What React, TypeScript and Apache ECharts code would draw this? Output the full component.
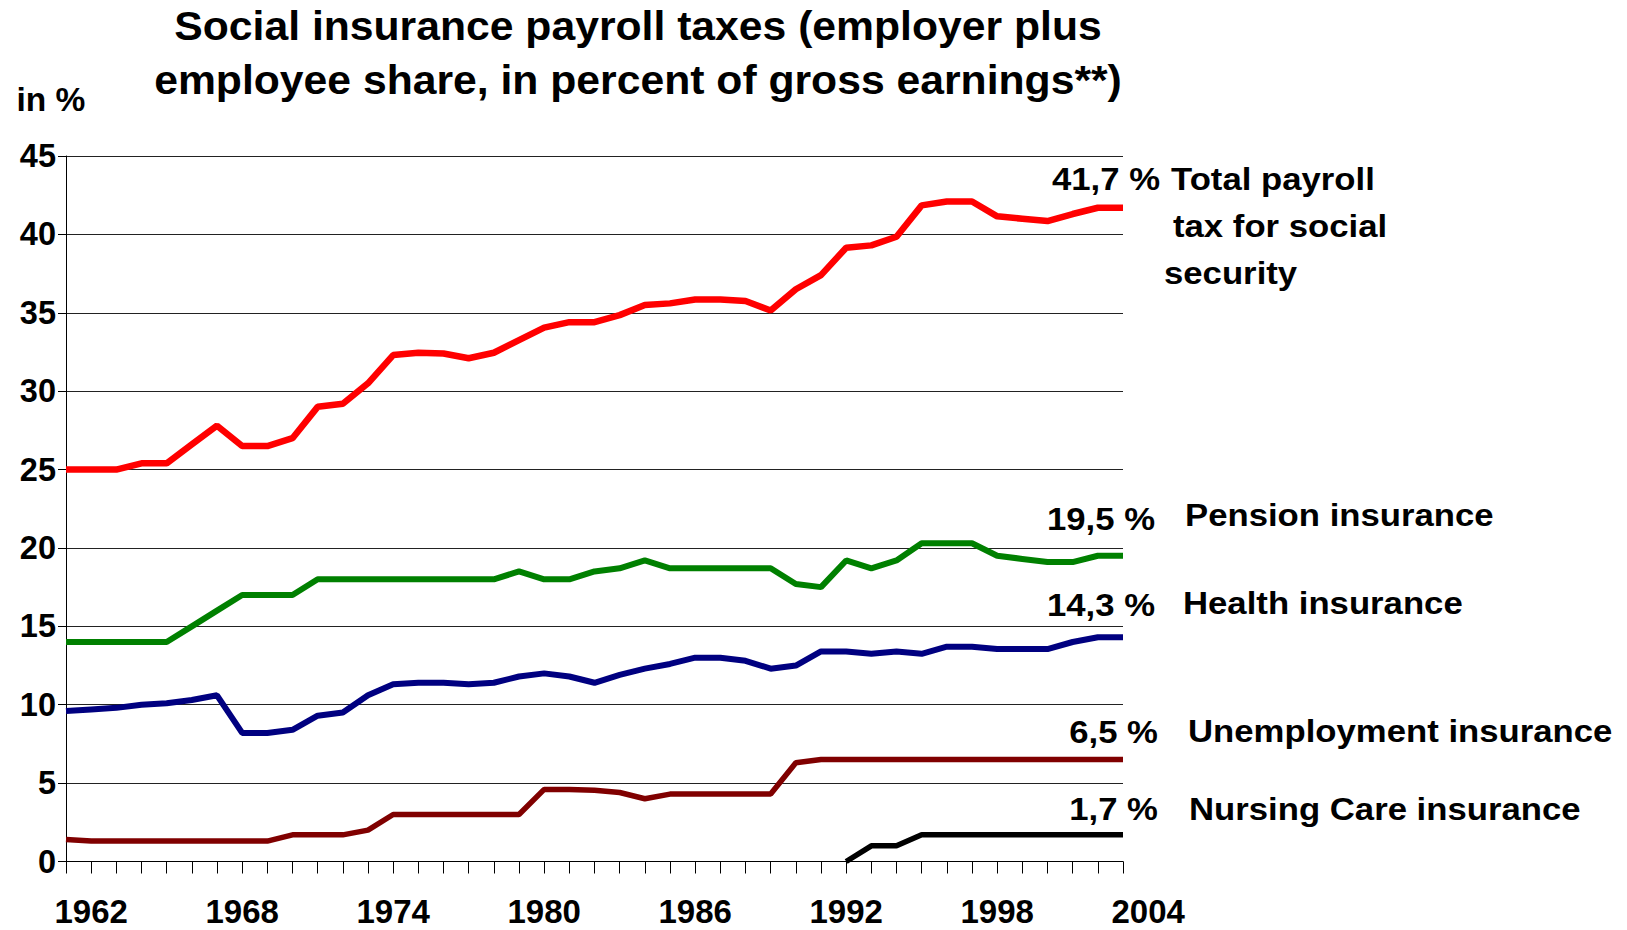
import React, { useEffect, useRef } from "react";
import * as echarts from "echarts";

const years = [
  1961, 1962, 1963, 1964, 1965, 1966, 1967, 1968, 1969, 1970,
  1971, 1972, 1973, 1974, 1975, 1976, 1977, 1978, 1979, 1980,
  1981, 1982, 1983, 1984, 1985, 1986, 1987, 1988, 1989, 1990,
  1991, 1992, 1993, 1994, 1995, 1996, 1997, 1998, 1999, 2000,
  2001, 2002, 2003,
];

const totalTax = [
  25.0, 25.0, 25.0, 25.4, 25.4, 26.6, 27.8, 26.5, 26.5, 27.0,
  29.0, 29.2, 30.5, 32.3, 32.45, 32.4, 32.1, 32.45, 33.25, 34.05,
  34.4, 34.4, 34.85, 35.5, 35.6, 35.85, 35.85, 35.75, 35.15, 36.5,
  37.4, 39.15, 39.3, 39.85, 41.85, 42.1, 42.1, 41.15, 41.0, 40.85,
  41.3, 41.7, 41.7,
];

const pension = [
  14.0, 14.0, 14.0, 14.0, 14.0, 15.0, 16.0, 17.0, 17.0, 17.0,
  18.0, 18.0, 18.0, 18.0, 18.0, 18.0, 18.0, 18.0, 18.5, 18.0,
  18.0, 18.5, 18.7, 19.2, 18.7, 18.7, 18.7, 18.7, 18.7, 17.7,
  17.5, 19.2, 18.7, 19.2, 20.3, 20.3, 20.3, 19.5, 19.3, 19.1,
  19.1, 19.5, 19.5,
];

const health = [
  9.6, 9.7, 9.8, 10.0, 10.1, 10.3, 10.6, 8.2, 8.2, 8.4,
  9.3, 9.5, 10.6, 11.3, 11.4, 11.4, 11.3, 11.4, 11.8, 12.0,
  11.8, 11.4, 11.9, 12.3, 12.6, 13.0, 13.0, 12.8, 12.3, 12.5,
  13.4, 13.4, 13.25, 13.4, 13.25, 13.7, 13.7, 13.55, 13.55, 13.55,
  14.0, 14.3, 14.3,
];

const unemployment = [
  1.4, 1.3, 1.3, 1.3, 1.3, 1.3, 1.3, 1.3, 1.3, 1.7,
  1.7, 1.7, 2.0, 3.0, 3.0, 3.0, 3.0, 3.0, 3.0, 4.6,
  4.6, 4.55, 4.4, 4.0, 4.3, 4.3, 4.3, 4.3, 4.3, 6.3,
  6.5, 6.5, 6.5, 6.5, 6.5, 6.5, 6.5, 6.5, 6.5, 6.5,
  6.5, 6.5, 6.5,
];

const nursingCare = [
  null, null, null, null, null, null, null, null, null, null,
  null, null, null, null, null, null, null, null, null, null,
  null, null, null, null, null, null, null, null, null, null,
  null, 0, 1.0, 1.0, 1.7, 1.7, 1.7, 1.7, 1.7, 1.7,
  1.7, 1.7, 1.7,
];

const yTicks = [0, 5, 10, 15, 20, 25, 30, 35, 40, 45];
const xLabelYears = [1962, 1968, 1974, 1980, 1986, 1992, 1998, 2004];

const titleLines = [
  "Social insurance payroll taxes (employer plus",
  "employee share, in percent of gross earnings**)",
];
const unitLabel = "in %";
const seriesNames = [
  "Total payroll tax for social security",
  "Pension insurance",
  "Health insurance",
  "Unemployment insurance",
  "Nursing Care insurance",
];
const totalLabelLines = ["Total payroll", "tax for social", "security"];

const FONT = "'Liberation Sans', Arial, Helvetica, sans-serif";

function fmt(v: number) {
  return v.toFixed(1).replace(".", ",") + " %";
}

export default function App() {
  const ref = useRef<HTMLDivElement>(null);

  useEffect(() => {
    if (!ref.current) return;
    const chart = echarts.init(ref.current, null, { renderer: "svg" });

    const gridLeft = 66;
    const gridRight = 1123;
    const gridTop = 156;
    const gridBottom = 861.5;
    const width = gridRight - gridLeft;
    const yearCount = years.length - 1;
    const labelWidth = (width * (yearCount + 1)) / yearCount;

    const mk = (arr: (number | null)[]) => years.map((y, i) => [y, arr[i]]);

    const colors = ["#ff0000", "#008000", "#000080", "#800000", "#000000"];
    const datas = [totalTax, pension, health, unemployment, nursingCare];
    const widths = [6.5, 6, 6, 5.5, 5.5];

    const last = (a: (number | null)[]) => a[a.length - 1] as number;

    const labelStyle = (extra: any) => ({
      fontFamily: FONT,
      fontWeight: "bold",
      fontSize: 31,
      fill: "#000",
      verticalAlign: "middle",
      ...extra,
    });

    const sx = 1.12;

    const graphic: any[] = [
      {
        type: "text",
        x: 638,
        y: 26,
        scaleX: 1.067,
        style: {
          text: titleLines[0],
          fontFamily: FONT,
          fontWeight: "bold",
          fontSize: 40,
          fill: "#000",
          align: "center",
          verticalAlign: "middle",
        },
      },
      {
        type: "text",
        x: 638,
        y: 80.5,
        scaleX: 1.067,
        style: {
          text: titleLines[1],
          fontFamily: FONT,
          fontWeight: "bold",
          fontSize: 40,
          fill: "#000",
          align: "center",
          verticalAlign: "middle",
        },
      },
      {
        type: "text",
        x: 16.5,
        y: 99,
        style: {
          text: unitLabel,
          fontFamily: FONT,
          fontWeight: "bold",
          fontSize: 33.5,
          fill: "#000",
          align: "left",
          verticalAlign: "middle",
        },
      },
      // value labels
      { type: "text", x: 1160, y: 179, scaleX: sx, style: labelStyle({ text: fmt(last(totalTax)), align: "right" }) },
      { type: "text", x: 1155, y: 519, scaleX: sx, style: labelStyle({ text: fmt(last(pension)), align: "right" }) },
      { type: "text", x: 1155, y: 605, scaleX: sx, style: labelStyle({ text: fmt(last(health)), align: "right" }) },
      { type: "text", x: 1158, y: 732, scaleX: sx, style: labelStyle({ text: fmt(last(unemployment)), align: "right" }) },
      { type: "text", x: 1158, y: 809.5, scaleX: sx, style: labelStyle({ text: fmt(last(nursingCare)), align: "right" }) },
      // series names
      { type: "text", x: 1171, y: 179, scaleX: sx, style: labelStyle({ text: totalLabelLines[0], align: "left" }) },
      { type: "text", x: 1173, y: 226, scaleX: sx, style: labelStyle({ text: totalLabelLines[1], align: "left" }) },
      { type: "text", x: 1164, y: 273, scaleX: sx, style: labelStyle({ text: totalLabelLines[2], align: "left" }) },
      { type: "text", x: 1185, y: 515, scaleX: sx, style: labelStyle({ text: seriesNames[1], align: "left" }) },
      { type: "text", x: 1183, y: 603.5, scaleX: sx, style: labelStyle({ text: seriesNames[2], align: "left" }) },
      { type: "text", x: 1188, y: 731, scaleX: sx, style: labelStyle({ text: seriesNames[3], align: "left" }) },
      { type: "text", x: 1189, y: 809.5, scaleX: sx, style: labelStyle({ text: seriesNames[4], align: "left" }) },
    ];

    const option: any = {
      animation: false,
      backgroundColor: "#ffffff",
      grid: [
        {
          left: gridLeft,
          top: gridTop,
          width: width,
          height: gridBottom - gridTop,
          containLabel: false,
        },
        {
          left: gridLeft,
          top: gridTop,
          width: labelWidth,
          height: gridBottom - gridTop,
          containLabel: false,
        },
      ],
      xAxis: [
        {
          type: "value",
          gridIndex: 0,
          min: years[0],
          max: years[years.length - 1],
          interval: 1,
          axisLine: { show: true, lineStyle: { color: "#000", width: 1 } },
          axisTick: { show: true, inside: false, length: 12, lineStyle: { color: "#000", width: 1 } },
          axisLabel: { show: false },
          splitLine: { show: false },
        },
        {
          type: "value",
          gridIndex: 1,
          min: years[0],
          max: xLabelYears[xLabelYears.length - 1],
          interval: 1,
          axisLine: { show: false },
          axisTick: { show: false },
          splitLine: { show: false },
          axisLabel: {
            show: true,
            margin: 33,
            fontFamily: FONT,
            fontWeight: "bold",
            fontSize: 33,
            color: "#000",
            showMinLabel: true,
            showMaxLabel: true,
            formatter: (v: number) => (xLabelYears.indexOf(v) >= 0 ? String(v) : ""),
          },
        },
      ],
      yAxis: [
        {
          type: "value",
          gridIndex: 0,
          min: yTicks[0],
          max: yTicks[yTicks.length - 1],
          interval: yTicks[1] - yTicks[0],
          axisLine: { show: true, lineStyle: { color: "#000", width: 1 } },
          axisTick: { show: true, inside: false, length: 8, lineStyle: { color: "#000", width: 1 } },
          axisLabel: {
            show: true,
            margin: 10,
            fontFamily: FONT,
            fontWeight: "bold",
            fontSize: 32.5,
            color: "#000",
          },
          splitLine: { show: true, lineStyle: { color: "#222", width: 1 } },
        },
        {
          type: "value",
          gridIndex: 1,
          min: yTicks[0],
          max: yTicks[yTicks.length - 1],
          show: false,
        },
      ],
      series: datas.map((d, i) => ({
        name: seriesNames[i],
        type: "line",
        xAxisIndex: 0,
        yAxisIndex: 0,
        data: mk(d),
        showSymbol: false,
        symbol: "none",
        connectNulls: false,
        lineStyle: { color: colors[i], width: widths[i] },
        itemStyle: { color: colors[i] },
        z: 5 - i + 2,
      })),
      graphic,
    };

    chart.setOption(option);
    return () => chart.dispose();
  }, []);

  return (
    <div
      ref={ref}
      style={{ position: "fixed", left: 0, top: 0, width: 1627, height: 930, background: "#fff" }}
    />
  );
}
